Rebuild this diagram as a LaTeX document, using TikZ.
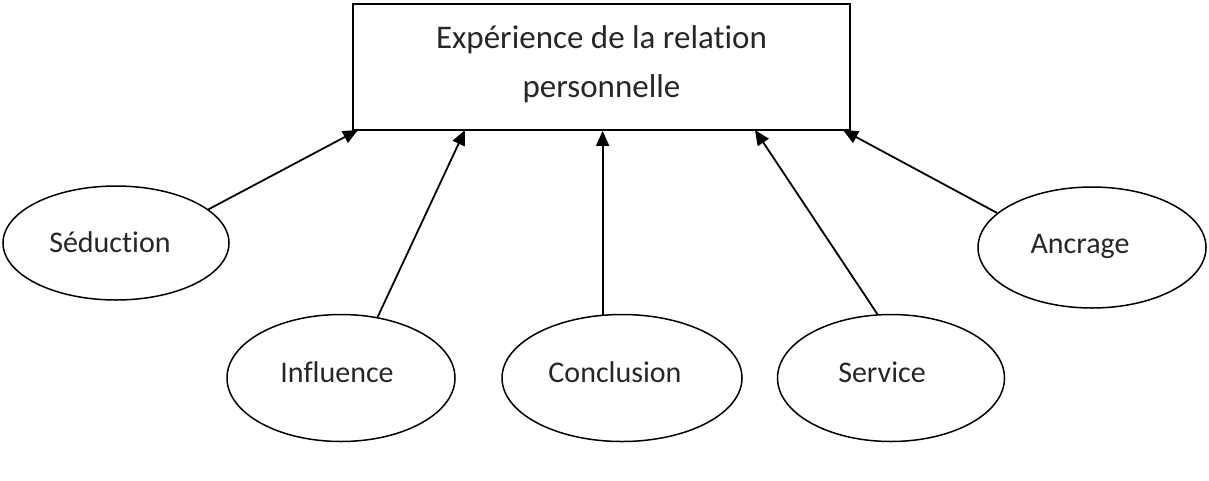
\documentclass[tikz,border=0pt]{standalone}
\usepackage{fontspec}
\setmainfont{Carlito}[Ligatures=NoCommon]
\usetikzlibrary{shapes.geometric,arrows.meta}
\begin{document}
\begin{tikzpicture}[x=1pt,y=-1pt,
  txt/.style={text=black!85, font=\fontsize{30}{49}\selectfont},
  boxtxt/.style={text=black!85, align=center, font=\fontsize{33}{49}\selectfont},
  mainbox/.style={draw, line width=1.8pt, minimum width=497pt, minimum height=126pt, inner sep=0pt},
  ell/.style={draw, ellipse, line width=1.5pt, inner sep=0pt},
  conn/.style={line width=1.8pt, -{Triangle[length=15pt,width=13pt]}}
]
\useasboundingbox (0,0) rectangle (1209,480);
\node[mainbox, label={[boxtxt, yshift=3pt]center:Expérience de la relation\\personnelle}] (box) at (601.5,67) {};
\node[ell, minimum width=226pt, minimum height=114pt, label={[txt, xshift=-6pt, yshift=1pt]center:Séduction}] (sed) at (116,243) {};
\node[ell, minimum width=228pt, minimum height=127pt, label={[txt, xshift=-4pt, yshift=6pt]center:Influence}] (inf) at (341,378) {};
\node[ell, minimum width=240pt, minimum height=127pt, label={[txt, xshift=-7pt, yshift=6pt]center:Conclusion}] (con) at (622,378) {};
\node[ell, minimum width=227pt, minimum height=127pt, label={[txt, xshift=-9pt, yshift=6pt]center:Service}] (ser) at (891,378) {};
\node[ell, minimum width=228pt, minimum height=121pt, label={[txt, xshift=-12pt, yshift=1pt]center:Ancrage}] (anc) at (1092,247.5) {};
\coordinate (t1) at (358,130);
\coordinate (t2) at (465,130);
\coordinate (t4) at (755,130);
\coordinate (t5) at (843,130);
\draw[conn] (sed.20) -- (t1);
\draw[conn] (inf.59) -- (t2);
\draw[conn] (con.107) -- (con.107 |- box.south);
\draw[conn] (ser.102) -- (t4);
\draw[conn] (anc.160) -- (t5);
\end{tikzpicture}
\end{document}
